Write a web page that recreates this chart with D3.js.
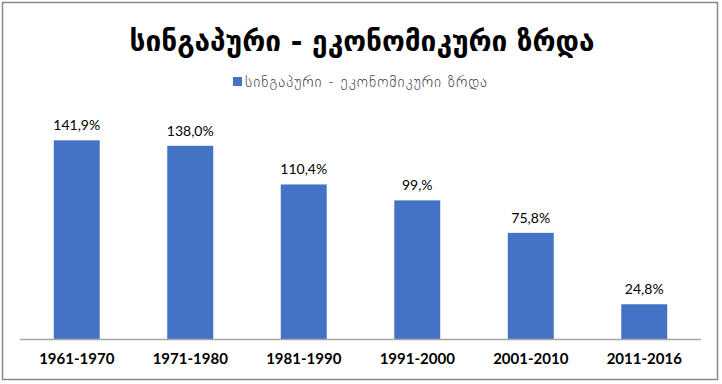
<!DOCTYPE html>
<html>
<head>
<meta charset="utf-8">
<script src="https://cdn.jsdelivr.net/npm/d3@7"></script>
<style>
  body { margin: 0; background: #fff; }
</style>
</head>
<body>
<div id="chart"></div>
<script>
let title = "სინგაპური - ეკონომიკური ზრდა"
let seriesName = "სინგაპური - ეკონომიკური ზრდა"
let periods = ["1961-1970", "1971-1980", "1981-1990", "1991-2000", "2001-2010", "2011-2016"]
let growth = [141.9, 138.0, 110.4, 99, 75.8, 24.8]
let valueLabels = ["141,9%", "138,0%", "110,4%", "99,%", "75,8%", "24,8%"]

let width = 722, height = 384
let svg = d3.select("#chart").append("svg")
    .attr("width", width)
    .attr("height", height)

// outer frame
svg.append("rect")
    .attr("x", 2.5).attr("y", 2.5)
    .attr("width", 715).attr("height", 377)
    .style("fill", "#fff")
    .style("stroke", "#898989")
    .style("stroke-width", 1.5)

let x = d3.scaleBand()
    .domain(periods)
    .range([20, 701])
    .paddingInner(0.595)
    .paddingOuter(0.2975)

let y = d3.scaleLinear()
    .domain([0, 160])
    .range([339, 115])

svg.append("text")
    .attr("x", 362).attr("y", 51)
    .attr("text-anchor", "middle")
    .style("font-family", "DejaVu Sans")
    .style("font-weight", "bold")
    .style("font-size", "28px")
    .style("fill", "#000")
    .text(title)

// legend
svg.append("rect")
    .attr("x", 233).attr("y", 77)
    .attr("width", 9).attr("height", 9)
    .style("fill", "#4472c4")
svg.append("text")
    .attr("x", 245).attr("y", 87)
    .style("font-family", "DejaVu Sans")
    .style("font-weight", "200")
    .style("font-size", "15px")
    .style("letter-spacing", "1px")
    .style("fill", "#404040")
    .text(seriesName)

svg.selectAll("rect.bar")
    .data(growth)
    .enter().append("rect")
    .attr("class", "bar")
    .attr("x", (d, i) => x(periods[i]))
    .attr("y", d => y(d))
    .attr("width", x.bandwidth())
    .attr("height", d => y(0) - y(d))
    .style("fill", "#4472c4")

svg.selectAll("text.val")
    .data(growth)
    .enter().append("text")
    .attr("class", "val")
    .attr("x", (d, i) => x(periods[i]) + x.bandwidth() / 2)
    .attr("y", d => y(d) - 10)
    .attr("text-anchor", "middle")
    .style("font-family", "Lato")
    .style("font-size", "14px")
    .style("fill", "#000")
    .text((d, i) => valueLabels[i])

let axis = svg.append("g")
    .attr("transform", "translate(0," + y(0) + ")")
    .call(d3.axisBottom(x).tickSize(0).tickPadding(14))
axis.select(".domain")
    .attr("d", "M20,0.5H701")
    .style("stroke", "#a6a6a6")
    .style("stroke-width", 1.5)
axis.selectAll("text")
    .style("font-family", "Lato")
    .style("font-weight", "bold")
    .style("font-size", "15px")
    .style("fill", "#000")
</script>
</body>
</html>
